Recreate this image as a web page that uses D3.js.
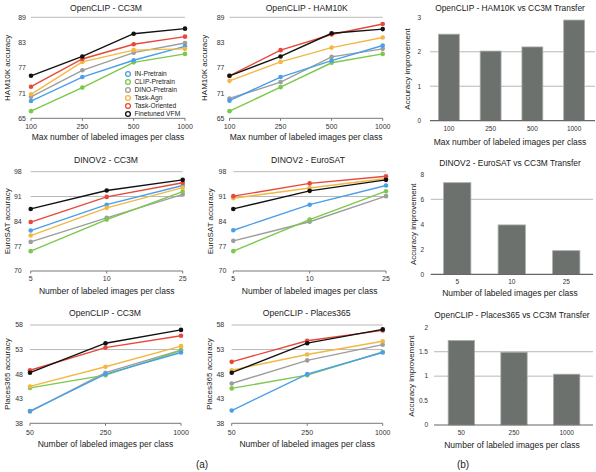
<!DOCTYPE html>
<html><head><meta charset="utf-8">
<script src="https://cdn.jsdelivr.net/npm/d3@7"></script>
<style>body{margin:0;background:#fff}svg{display:block;font-family:"Liberation Sans",Arial,Helvetica,sans-serif}</style>
</head><body><svg id="c" width="596" height="472"></svg>
<script>
// ---------- DATA ----------
const seriesNames = ["IN-Pretrain","CLIP-Pretrain","DINO-Pretrain","Task-Agn","Task-Oriented","Finetuned VFM"];
const seriesColors = ["#4b9fe9","#7cc84a","#9d9d9d","#f2b843","#e8483a","#111111"];
const drawOrder = [2,1,0,3,4,5];

const hamLabels = ["100","250","500","1000"];
const euroLabels = ["5","10","25"];
const placesLabels = ["50","250","1000"];
const hamTicks = [65,71,77,83,89];
const euroTicks = [70,77,84,91,98];
const placesTicks = [38,43,48,53,58];

// OpenCLIP - CC3M (HAM10K accuracy), one row per series
const clipCC3MHam = [
  [69.1,74.8,78.8,82.1],
  [66.7,72.3,78.3,80.3],
  [70.1,76.4,80.6,82.9],
  [70.7,78.4,81.2,81.5],
  [72.5,79.1,82.6,84.4],
  [75.1,79.7,85.1,86.3]];
// OpenCLIP - HAM10K
const clipHam = [
  [69.2,74.8,78.7,82.3],
  [66.7,72.4,78.2,80.3],
  [69.7,73.6,79.6,81.5],
  [73.9,78.4,81.8,84.2],
  [75.1,81.2,84.9,87.4],
  [75.1,79.7,85.2,86.2]];
// DINOV2 - CC3M (EuroSAT accuracy)
const dinoCC3MEuro = [
  [81.4,88.7,94.1],
  [75.6,84.5,92.4],
  [78.2,85.0,91.6],
  [80.0,87.8,93.5],
  [83.8,90.9,94.9],
  [87.5,92.7,95.7]];
// DINOV2 - EuroSAT
const dinoEuro = [
  [81.5,88.7,94.1],
  [75.6,84.5,92.5],
  [78.5,83.9,91.1],
  [90.5,93.4,96.1],
  [91.1,94.7,96.7],
  [87.5,92.6,95.7]];
// OpenCLIP - CC3M (Places365 accuracy)
const clipCC3MPlaces = [
  [40.5,48.0,52.4],
  [45.2,47.8,52.8],
  [40.4,48.3,52.9],
  [45.5,49.5,53.7],
  [48.8,53.4,55.8],
  [48.3,54.3,57.0]];
// OpenCLIP - Places365
const clipPlaces = [
  [40.6,48.0,52.4],
  [45.1,47.8,52.5],
  [46.1,50.8,54.0],
  [48.8,52.0,54.7],
  [50.5,54.8,56.9],
  [48.3,54.3,57.1]];

// Transfer improvements (bars)
const hamTransfer = [2.51,2.02,2.14,2.92];
const hamTransferTicks = [0,1,2,3];
const euroTransfer = [7.33,3.95,1.89];
const euroTransferTicks = [0,2,4,6,8];
const placesTransfer = [1.73,1.49,1.04];
const placesTransferTicks = [0,0.5,1,1.5,2];

// ---------- DRAW ----------
const svg = d3.select("#c");
const txt = "#333";

function linePanel(o){
  const g = svg.append("g");
  const x = d3.scalePoint().domain(o.labels).range([o.x0,o.x1]).padding(0);
  const y = d3.scaleLinear().domain([o.ticks[0],o.ticks[o.ticks.length-1]]).range([o.yb,o.yt]);
  // grid
  g.selectAll(".grid").data(o.grid).enter().append("line")
    .attr("x1",o.x0).attr("x2",o.x1).attr("y1",d=>y(d)).attr("y2",d=>y(d))
    .attr("stroke","#b8b8b8").attr("stroke-width",1);
  // baseline
  g.append("line").attr("x1",o.x0).attr("x2",o.x1).attr("y1",o.yb).attr("y2",o.yb)
    .attr("stroke","#777").attr("stroke-width",1);
  g.selectAll(".tk").data(o.labels).enter().append("line")
    .attr("x1",d=>x(d)).attr("x2",d=>x(d)).attr("y1",o.yb).attr("y2",o.yb+2.5)
    .attr("stroke","#777");
  // y ticks
  g.selectAll(".yl").data(o.ticks).enter().append("text")
    .attr("x",o.x0-o.yoff).attr("y",d=>y(d)).attr("dy","0.35em")
    .attr("text-anchor","end").attr("font-size",7).attr("fill",txt).text(d=>d);
  // x ticks
  g.selectAll(".xl").data(o.labels).enter().append("text")
    .attr("x",d=>x(d)).attr("y",o.xly).attr("dy","0.35em")
    .attr("text-anchor","middle").attr("font-size",7).attr("fill",txt).text(d=>d);
  // titles
  g.append("text").attr("x",o.tx).attr("y",o.ty).attr("dy","0.35em").attr("text-anchor","middle")
    .attr("font-size",8.6).attr("fill","#222").text(o.title);
  g.append("text").attr("x",(o.x0+o.x1)/2).attr("y",o.xty).attr("dy","0.35em").attr("text-anchor","middle")
    .attr("font-size",8.5).attr("fill","#222").text(o.xtitle);
  g.append("text").attr("transform",`translate(${o.ytx},${(o.yt+o.yb)/2}) rotate(-90)`)
    .attr("dy","0.35em").attr("text-anchor","middle").attr("font-size",8).attr("fill","#222").text(o.ytitle);
  const line = d3.line().x((d,i)=>x(o.labels[i])).y(d=>y(d));
  drawOrder.forEach(si=>{
    const vals = o.data[si];
    g.append("path").attr("d",line(vals)).attr("fill","none")
      .attr("stroke",seriesColors[si]).attr("stroke-width",1.4);
    g.selectAll(null).data(vals).enter().append("circle")
      .attr("cx",(d,i)=>x(o.labels[i])).attr("cy",d=>y(d)).attr("r",2.3)
      .attr("fill",seriesColors[si]);
  });
  if(o.legend){
    const lg = g.append("g");
    seriesNames.forEach((n,i)=>{
      const ly = o.legend.y + i*o.legend.dy;
      lg.append("circle").attr("cx",o.legend.x).attr("cy",ly).attr("r",2.4)
        .attr("fill","#fff").attr("stroke",seriesColors[i]).attr("stroke-width",1.3);
      lg.append("text").attr("x",o.legend.x+6.5).attr("y",ly).attr("dy","0.35em")
        .attr("font-size",6.7).attr("fill","#222").text(n);
    });
  }
}

function barPanel(o){
  const g = svg.append("g");
  const x = d3.scaleBand().domain(o.labels).range([o.bx0,o.bx1]).paddingInner(0.5).paddingOuter(0.25);
  const y = d3.scaleLinear().domain([o.ticks[0],o.ticks[o.ticks.length-1]]).range([o.yb,o.yt]);
  g.selectAll(".grid").data(o.grid).enter().append("line")
    .attr("x1",o.gx0).attr("x2",o.gx1).attr("y1",d=>y(d)).attr("y2",d=>y(d))
    .attr("stroke","#b8b8b8").attr("stroke-width",1);
  g.selectAll(".bar").data(o.values).enter().append("rect")
    .attr("x",(d,i)=>x(o.labels[i])).attr("width",x.bandwidth())
    .attr("y",d=>y(d)).attr("height",d=>y(0)-y(d))
    .attr("fill","#6c716d").attr("stroke","#a9ada9").attr("stroke-width",0.8);
  g.append("line").attr("x1",o.gx0).attr("x2",o.gx1).attr("y1",o.yb).attr("y2",o.yb)
    .attr("stroke","#666").attr("stroke-width",1.2);
  g.selectAll(".yl").data(o.ticks).enter().append("text")
    .attr("x",o.ylx).attr("y",d=>y(d)).attr("dy","0.35em")
    .attr("text-anchor","end").attr("font-size",6.5).attr("fill",txt).text(d=>d);
  g.selectAll(".xl").data(o.labels).enter().append("text")
    .attr("x",d=>x(d)+x.bandwidth()/2).attr("y",o.xly).attr("dy","0.35em")
    .attr("text-anchor","middle").attr("font-size",6.5).attr("fill",txt).text(d=>d);
  g.append("text").attr("x",o.tx).attr("y",o.ty).attr("dy","0.35em").attr("text-anchor","middle")
    .attr("font-size",8.4).attr("fill","#222").text(o.title);
  g.append("text").attr("x",o.tx).attr("y",o.xty).attr("dy","0.35em").attr("text-anchor","middle")
    .attr("font-size",8.5).attr("fill","#222").text(o.xtitle);
  g.append("text").attr("transform",`translate(${o.ytx},${(o.yt+o.yb)/2}) rotate(-90)`)
    .attr("dy","0.35em").attr("text-anchor","middle").attr("font-size",8).attr("fill","#222").text("Accuracy improvement");
}

const xtMax = "Max number of labeled images per class";
const xtNum = "Number of labeled images per class";

linePanel({data:clipCC3MHam,labels:hamLabels,ticks:hamTicks,grid:[89],x0:31,x1:185,yb:118.3,yt:17.3,yoff:5,
  xly:127,xty:137.5,tx:106,ty:8,title:"OpenCLIP - CC3M",xtitle:xtMax,ytitle:"HAM10K accuracy",ytx:7.5,
  legend:{x:128,y:74,dy:8}});
linePanel({data:clipHam,labels:hamLabels,ticks:hamTicks,grid:[89],x0:229.5,x1:382.7,yb:118.3,yt:17.3,yoff:5,
  xly:127,xty:137.5,tx:306.7,ty:8,title:"OpenCLIP - HAM10K",xtitle:xtMax,ytitle:"HAM10K accuracy",ytx:204});
barPanel({values:hamTransfer,labels:hamLabels,ticks:hamTransferTicks,grid:[1,2],bx0:428,bx1:595,gx0:430,gx1:595,
  yb:120.7,yt:17.3,ylx:421,xly:128.5,xty:142,tx:510,ty:8,title:"OpenCLIP - HAM10K vs CC3M Transfer",xtitle:xtMax,ytx:407});

linePanel({data:dinoCC3MEuro,labels:euroLabels,ticks:euroTicks,grid:[91,98],x0:30.7,x1:182.7,yb:271,yt:171.7,yoff:9,
  xly:279,xty:290.7,tx:106,ty:160,title:"DINOV2 - CC3M",xtitle:xtNum,ytitle:"EuroSAT accuracy",ytx:7.5});
linePanel({data:dinoEuro,labels:euroLabels,ticks:euroTicks,grid:[91,98],x0:233.3,x1:386,yb:271,yt:171.7,yoff:7,
  xly:279,xty:290.7,tx:308,ty:160,title:"DINOV2 - EuroSAT",xtitle:xtNum,ytitle:"EuroSAT accuracy",ytx:210.5});
barPanel({values:euroTransfer,labels:euroLabels,ticks:euroTransferTicks,grid:[6],bx0:430,bx1:593.5,gx0:430.7,gx1:593,
  yb:274.3,yt:174.3,ylx:424,xly:281.5,xty:293,tx:510,ty:163.3,title:"DINOV2 - EuroSAT vs CC3M Transfer",xtitle:xtNum,ytx:413});

linePanel({data:clipCC3MPlaces,labels:placesLabels,ticks:placesTicks,grid:[53,58],x0:30,x1:181,yb:423.3,yt:325,yoff:7,
  xly:432.3,xty:444,tx:105,ty:313,title:"OpenCLIP - CC3M",xtitle:xtNum,ytitle:"Places365 accuracy",ytx:7});
linePanel({data:clipPlaces,labels:placesLabels,ticks:placesTicks,grid:[53,58],x0:231.7,x1:382.7,yb:423.3,yt:325,yoff:7.5,
  xly:432.3,xty:444,tx:306.7,ty:313,title:"OpenCLIP - Places365",xtitle:xtNum,ytitle:"Places365 accuracy",ytx:209});
barPanel({values:placesTransfer,labels:placesLabels,ticks:placesTransferTicks,grid:[1,1.5],bx0:435,bx1:593,gx0:434,gx1:593,
  yb:425,yt:327.3,ylx:428,xly:432.3,xty:445,tx:512,ty:315,title:"OpenCLIP - Places365 vs CC3M Transfer",xtitle:xtNum,ytx:411});

svg.append("text").attr("x",202).attr("y",464).attr("dy","0.35em").attr("text-anchor","middle")
  .attr("font-size",10).attr("fill","#222").text("(a)");
svg.append("text").attr("x",463).attr("y",464).attr("dy","0.35em").attr("text-anchor","middle")
  .attr("font-size",10).attr("fill","#222").text("(b)");
</script></body></html>
